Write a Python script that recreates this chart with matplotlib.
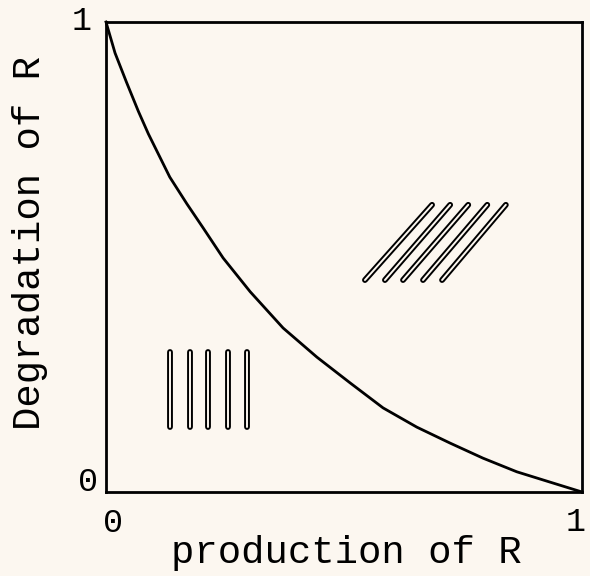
import numpy as np
import matplotlib.pyplot as plt

# curve (production of R -> degradation of R)
curve_x = [0.0, 0.019, 0.043, 0.068, 0.089, 0.134, 0.170, 0.204, 0.246,
           0.303, 0.372, 0.443, 0.513, 0.582, 0.653, 0.723, 0.792, 0.863,
           0.933, 1.0]
curve_y = [1.0, 0.934, 0.872, 0.810, 0.762, 0.670, 0.613, 0.562, 0.498,
           0.426, 0.349, 0.287, 0.232, 0.179, 0.138, 0.104, 0.072, 0.043,
           0.021, 0.0]

# vertical hatch strokes (lower left)
vert_x = [0.134, 0.176, 0.214, 0.256, 0.296]
vert_y = (0.138, 0.298)

# slanted hatch strokes (upper right)
diag_x0 = [0.544, 0.586, 0.624, 0.666, 0.706]
diag_x1 = [0.685, 0.723, 0.761, 0.801, 0.840]
diag_y = (0.451, 0.611)

bg = '#fcf7f0'
font = 'Liberation Mono'

fig = plt.figure(figsize=(5.9, 5.76), dpi=100, facecolor=bg)
ax = fig.add_axes([106 / 590, 84 / 576, 476 / 590, 470 / 576])
ax.set_facecolor(bg)
ax.set_xlim(0, 1)
ax.set_ylim(0, 1)

ax.plot(curve_x, curve_y, color='black', lw=2.0, clip_on=False,
        solid_joinstyle='round')


def double_line(xs, ys):
    # outlined stroke: thick black, thin background core
    ax.plot(xs, ys, color='black', lw=4.2, solid_capstyle='round')
    ax.plot(xs, ys, color=bg, lw=1.4, solid_capstyle='round')


for x in vert_x:
    double_line([x, x], list(vert_y))
for x0, x1 in zip(diag_x0, diag_x1):
    double_line([x0, x1], list(diag_y))

for s in ax.spines.values():
    s.set_linewidth(2.0)
ax.set_xticks([])
ax.set_yticks([])

ax.text(-0.052, 1.0, '1', fontsize=24, family=font, ha='center', va='center')
ax.text(-0.038, 0.021, '0', fontsize=24, family=font, ha='center', va='center')
ax.text(0.015, -0.066, '0', fontsize=24, family=font, ha='center', va='center')
ax.text(0.986, -0.064, '1', fontsize=24, family=font, ha='center', va='center')

fig.text(346 / 590, 1 - 553 / 576, 'production of R', fontsize=28, family=font,
         ha='center', va='center')
fig.text(30 / 590, 1 - 243 / 576, 'Degradation of R', fontsize=28, family=font,
         ha='center', va='center', rotation=90)

fig.savefig('out.png', dpi=100, facecolor=bg)
